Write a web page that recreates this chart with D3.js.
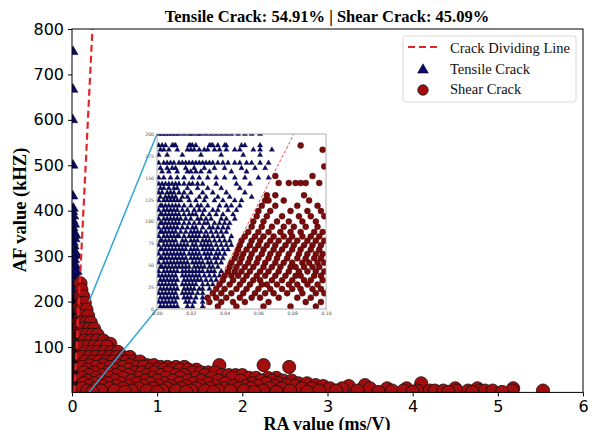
<!DOCTYPE html>
<html><head><meta charset="utf-8">
<script src="https://cdn.jsdelivr.net/npm/d3@7"></script>
<style>body{margin:0;background:#fff}svg{display:block}</style>
</head><body>
<svg id="chart" width="600" height="430"></svg>
<script>
// ---------------- DATA ----------------
const titleText = "Tensile Crack: 54.91% | Shear Crack: 45.09%";
const xTicks = [0, 1, 2, 3, 4, 5, 6];
const yTicks = [100, 200, 300, 400, 500, 600, 700, 800];
const insetXTicks = [0, 0.02, 0.04, 0.06, 0.08, 0.10];
const insetYTicks = [0, 25, 50, 75, 100, 125, 150, 175, 200];
const legendLabels = ["Crack Dividing Line", "Tensile Crack", "Shear Crack"];
// dividing line end points (RA, AF)
const lineRA = [0.028, 0.240];
const lineAF = [0, 800];
// zoom region connector anchors (RA, AF)
const zoomRA = [0.2, 0.2];
const zoomAF = [200, 0];

// Tensile cracks above the inset range: [RA, AF]
const tensileHigh = [[0.012,750],[0.010,667],[0.008,600],[0.012,500],[0.010,432],[0.015,405],[0.008,398],[0.020,388],
  [0.010,378],[0.030,370],[0.012,362],[0.022,352],[0.045,346],[0.008,345],[0.035,338],[0.015,330],[0.025,322],[0.010,315],
  [0.040,308],[0.055,302],[0.018,300],[0.030,292],[0.008,285],[0.045,278],[0.020,270],[0.060,266],[0.035,262],[0.012,255],[0.050,248],
  [0.025,240],[0.040,232],[0.065,228],[0.010,225],[0.055,218],[0.030,212],[0.018,205]];

// Tensile cracks in the low range, by AF row: [AF, [RA...]]
const tensileRows = [
 [200,[0.001,0.003,0.005,0.007,0.009,0.011,0.013,0.016,0.019,0.021,0.024,0.026,0.029,0.032,0.035,0.038,0.041,0.044,0.048,0.052,0.056,0.061]],
 [187,[0.001,0.003,0.005,0.009,0.010,0.011,0.019,0.020,0.021,0.023,0.031,0.032,0.033,0.036,0.040,0.041,0.050,0.052,0.061]],
 [182,[0.002,0.004,0.007,0.012,0.018,0.020,0.022,0.025,0.028,0.030,0.034,0.037,0.041,0.046,0.049,0.057,0.061,0.068]],
 [176,[0.001,0.006,0.015,0.026,0.038,0.051,0.061]],
 [167,[0.001,0.004,0.006,0.008,0.010,0.013,0.015,0.017,0.019,0.021,0.023,0.025,0.027,0.029,0.031,0.033,0.036,0.039,0.042,0.046,0.049,0.053,0.056,0.061,0.066]],
 [161,[0.002,0.006,0.009,0.011,0.017,0.022,0.028,0.034,0.040,0.050,0.058,0.064]],
 [157,[0.003,0.007,0.012,0.018,0.020,0.023,0.026,0.031,0.044,0.053]],
 [150,[0.001,0.004,0.008,0.012,0.016,0.021,0.025,0.030,0.035,0.040,0.046,0.052,0.060,0.066]],
 [143,[0.001,0.003,0.005,0.007,0.009,0.011,0.013,0.016,0.019,0.021,0.024,0.027,0.035,0.047,0.055]],
 [138,[0.002,0.004,0.007,0.010,0.012,0.018,0.024,0.030,0.038,0.049]],
 [133,[0.001,0.003,0.006,0.008,0.010,0.013,0.016,0.020,0.027,0.033,0.041,0.052]],
 [128,[0.002,0.005,0.007,0.009,0.011,0.015,0.018,0.025,0.029,0.036,0.043,0.056]],
 [124,[0.001,0.004,0.006,0.008,0.010,0.012,0.014,0.019,0.023,0.028,0.034,0.039,0.046,0.050]],
 [118,[0.002,0.003,0.005,0.007,0.009,0.011,0.013,0.016,0.020,0.024,0.026,0.030,0.037,0.041,0.044,0.049]],
 [113,[0.001,0.004,0.006,0.008,0.010,0.012,0.015,0.018,0.022,0.025,0.028,0.033,0.036,0.042,0.047]],
 [108,[0.002,0.003,0.005,0.007,0.009,0.011,0.013,0.016,0.019,0.021,0.023,0.027,0.031,0.035,0.039,0.045]],
 [103,[0.001,0.004,0.006,0.008,0.010,0.012,0.014,0.017,0.020,0.024,0.026,0.029,0.032,0.038,0.041,0.046]],
 [98,[0.002,0.003,0.005,0.007,0.009,0.011,0.013,0.016,0.019,0.022,0.025,0.028,0.030,0.034,0.037,0.040,0.043]],
 [93,[0.001,0.004,0.006,0.008,0.010,0.012,0.015,0.018,0.021,0.023,0.027,0.031,0.033,0.036,0.039,0.042]],
 [88,[0.002,0.003,0.005,0.007,0.009,0.011,0.014,0.017,0.020,0.022,0.024,0.026,0.029,0.032,0.035,0.038,0.041]],
 [83,[0.001,0.004,0.006,0.008,0.010,0.012,0.013,0.016,0.019,0.021,0.023,0.025,0.028,0.030,0.033,0.036,0.039,0.044]],
 [78,[0.002,0.003,0.005,0.007,0.009,0.011,0.015,0.017,0.020,0.022,0.024,0.027,0.029,0.031,0.034,0.037,0.040,0.043]],
 [73,[0.001,0.004,0.006,0.008,0.010,0.012,0.014,0.016,0.018,0.021,0.023,0.026,0.028,0.030,0.032,0.035,0.038,0.041,0.044]],
 [68,[0.002,0.003,0.005,0.007,0.009,0.011,0.013,0.015,0.017,0.020,0.022,0.024,0.027,0.029,0.031,0.033,0.036,0.039,0.042]],
 [63,[0.001,0.004,0.006,0.008,0.010,0.012,0.014,0.016,0.019,0.021,0.023,0.025,0.028,0.030,0.032,0.035,0.037,0.040]],
 [58,[0.002,0.003,0.005,0.007,0.009,0.011,0.013,0.015,0.017,0.020,0.022,0.024,0.026,0.029,0.031,0.034,0.036,0.039]],
 [53,[0.001,0.004,0.006,0.008,0.010,0.012,0.014,0.016,0.018,0.021,0.023,0.025,0.027,0.030,0.032,0.035,0.038]],
 [48,[0.002,0.003,0.005,0.007,0.009,0.011,0.013,0.015,0.017,0.019,0.022,0.024,0.026,0.028,0.031,0.033,0.036]],
 [43,[0.001,0.004,0.006,0.008,0.010,0.012,0.015,0.017,0.019,0.021,0.023,0.025,0.027,0.030,0.032,0.034,0.038]],
 [38,[0.001,0.003,0.005,0.007,0.009,0.011,0.015,0.017,0.019,0.021,0.023,0.025,0.028,0.031,0.034,0.037]],
 [33,[0.002,0.004,0.006,0.008,0.010,0.012,0.016,0.018,0.020,0.022,0.024,0.026,0.029,0.032,0.035]],
 [28,[0.001,0.003,0.005,0.007,0.009,0.011,0.015,0.017,0.019,0.021,0.023,0.027,0.030,0.033]],
 [23,[0.002,0.004,0.006,0.008,0.010,0.012,0.016,0.018,0.020,0.022,0.025,0.027,0.031]],
 [18,[0.001,0.003,0.005,0.007,0.009,0.011,0.015,0.017,0.019,0.021,0.024,0.027]],
 [13,[0.002,0.004,0.006,0.008,0.010,0.012,0.016,0.018,0.020,0.023,0.027]],
 [8,[0.001,0.003,0.005,0.007,0.009,0.011,0.017,0.019,0.022,0.027]],
 [3,[0.002,0.004,0.006,0.008,0.010,0.012,0.018,0.021,0.027]]
];

// Shear cracks in the low-RA range, by AF row: [AF, [RA...]]
const shearLowRows = [
 [187,[0.085]],[182,[0.098]],[163,[0.099]],[152,[0.070,0.092]],
 [144,[0.072,0.078,0.082,0.085,0.088,0.096]],
 [130,[0.065,0.070,0.087]],
 [124,[0.064,0.066,0.075,0.090]],
 [118,[0.062,0.070,0.083,0.095]],
 [112,[0.060,0.067,0.079,0.089,0.097]],
 [106,[0.059,0.065,0.074,0.084,0.091,0.099]],
 [100,[0.057,0.063,0.071,0.078,0.086,0.094]],
 [94,[0.056,0.062,0.068,0.075,0.081,0.088,0.095]],
 [88,[0.054,0.060,0.066,0.073,0.079,0.085,0.093,0.098]],
 [83,[0.052,0.058,0.063,0.069,0.075,0.080,0.086,0.091,0.096]],
 [78,[0.050,0.056,0.061,0.067,0.072,0.078,0.083,0.089,0.094,0.099]],
 [73,[0.049,0.055,0.060,0.065,0.070,0.076,0.081,0.087,0.092,0.097]],
 [68,[0.048,0.053,0.058,0.063,0.069,0.074,0.080,0.085,0.091,0.096]],
 [63,[0.047,0.051,0.056,0.062,0.067,0.072,0.078,0.084,0.089,0.094,0.098]],
 [58,[0.046,0.050,0.055,0.060,0.066,0.071,0.077,0.083,0.088,0.093,0.097]],
 [53,[0.044,0.049,0.054,0.059,0.064,0.070,0.075,0.080,0.086,0.090,0.095,0.099]],
 [48,[0.043,0.047,0.052,0.057,0.063,0.068,0.073,0.079,0.082,0.087,0.092,0.096]],
 [43,[0.042,0.046,0.050,0.055,0.061,0.066,0.072,0.078,0.084,0.089,0.094,0.099]],
 [38,[0.040,0.044,0.048,0.053,0.059,0.064,0.070,0.076,0.082,0.085,0.093,0.097]],
 [33,[0.039,0.045,0.051,0.057,0.061,0.068,0.074,0.080,0.087,0.091,0.098]],
 [28,[0.037,0.043,0.049,0.055,0.062,0.065,0.071,0.078,0.083,0.089,0.095]],
 [23,[0.035,0.040,0.047,0.053,0.060,0.067,0.074,0.080,0.085,0.092,0.097]],
 [18,[0.033,0.038,0.044,0.051,0.058,0.064,0.069,0.077,0.086,0.094,0.099]],
 [13,[0.030,0.035,0.041,0.049,0.056,0.061,0.072,0.083,0.091]],
 [8,[0.031,0.038,0.045,0.052,0.066,0.088,0.097]],
 [3,[0.036,0.047,0.063,0.079,0.094]]
];

// Shear cracks over the full RA range, by AF row: [AF, [RA...]]
const shearMainRows = [
 [240,[0.10]],[226,[0.11]],[212,[0.10,0.13]],[197,[0.12,0.15]],[182,[0.11,0.17]],[168,[0.13,0.19]],
 [154,[0.11,0.17,0.22]],[140,[0.14,0.20,0.26]],[127,[0.12,0.18,0.24,0.30]],[114,[0.15,0.22,0.29,0.37]],
 [107,[0.45]],[101,[0.12,0.19,0.26,0.33,0.41]],[89,[0.16,0.23,0.30,0.38,0.46,0.54]],
 [78,[0.12,0.20,0.28,0.36,0.44,0.52,0.60,0.68]],
 [68,[0.16,0.24,0.32,0.40,0.48,0.56,0.64,0.72,0.80]],
 [60,[0.20,0.36,0.52,0.68,0.88,0.96,1.73,2.25]],
 [56,[0.12,0.28,0.44,0.60,0.76,0.84,1.04,1.12,1.22,1.32,2.55]],
 [50,[0.18,0.34,0.50,0.66,0.92,1.00,1.08,1.17,1.27,1.37,1.46]],
 [44,[0.14,0.26,0.42,0.58,0.74,0.82,0.96,1.13,1.41,1.52,1.60,1.68]],
 [38,[0.20,0.36,0.52,0.66,0.88,1.04,1.22,1.32,1.56,1.76,1.84,1.92,2.00]],
 [32,[0.12,0.28,0.44,0.60,0.78,0.94,1.10,1.27,1.45,1.64,1.88,2.08,2.16,2.30,2.40]],
 [26,[0.18,0.34,0.50,0.70,0.86,1.00,1.18,1.36,1.52,1.72,1.98,2.22,2.35,2.48,2.58]],
 [20,[0.14,0.26,0.42,0.58,0.76,0.92,1.08,1.26,1.42,1.60,1.80,2.12,2.28,2.42,2.66,2.76,4.10]],
 [16,[2.52,2.86,3.44]],
 [14,[0.20,0.36,0.52,0.66,0.84,1.02,1.16,1.34,1.50,1.68,1.90,2.04,2.18,2.38,2.62,2.95,3.25]],
 [9,[0.12,0.28,0.44,0.60,0.78,0.96,1.12,1.28,1.46,1.62,1.78,1.96,2.10,2.32,2.46,2.70,2.82,3.03,3.17,3.50,3.70,3.93,4.50,4.76,5.18]],
 [4,[0.18,0.34,0.50,0.70,0.88,1.06,1.22,1.40,1.56,1.72,1.86,2.02,2.24,2.56,2.90,3.10,3.35,3.76,3.89,4.05,4.20,4.26,4.36,4.52,4.65,4.79,4.85,4.94,5.17,5.53]],
 [1,[0.24,0.62,1.00,1.34,1.66,2.14,2.40,2.76,3.60,4.00,4.42,4.70,5.05]]
];

// ---------------- BUILD ----------------
const fromRows = rows => rows.flatMap(([af, ras]) => ras.map(ra => ({ra, af})));
const tensile = tensileHigh.map(([ra, af]) => ({ra, af})).concat(fromRows(tensileRows));
const shear = fromRows(shearLowRows).concat(fromRows(shearMainRows));

const svg = d3.select("#chart");
const NAVY = "#0a0a6e", RED = "#a30d0d", DASH = "#e3232a", CYAN = "#2ea6d6";
const serif = "'Liberation Serif','Times New Roman',serif";
const sans = "'DejaVu Sans',sans-serif";

const x = d3.scaleLinear().domain([0, 6]).range([72, 583]);
const y = d3.scaleLinear().domain([0, 800]).range([392.4, 29]);
const xi = d3.scaleLinear().domain([0, 0.1]).range([157, 326]);
const yi = d3.scaleLinear().domain([0, 200]).range([309, 134]);

const defs = svg.append("defs");
defs.append("clipPath").attr("id", "clipMain").append("rect")
  .attr("x", x(0)).attr("y", y(800)).attr("width", x(6) - x(0)).attr("height", y(0) - y(800));
defs.append("clipPath").attr("id", "clipInset").append("rect")
  .attr("x", xi(0)).attr("y", yi(200)).attr("width", xi(0.1) - xi(0)).attr("height", yi(0) - yi(200));

const tri = s => d3.symbol().type(d3.symbolTriangle).size(s)();

// ---- main plot ----
const gMain = svg.append("g").attr("clip-path", "url(#clipMain)");
gMain.append("g").selectAll("path").data(tensile).join("path")
  .attr("d", tri(44))
  .attr("transform", d => `translate(${x(d.ra)},${y(d.af)})`)
  .attr("fill", NAVY).attr("stroke", "#000").attr("stroke-width", 0.5);
gMain.append("g").selectAll("circle").data(shear).join("circle")
  .attr("cx", d => x(d.ra)).attr("cy", d => y(d.af)).attr("r", 6.6)
  .attr("fill", RED).attr("stroke", "#111").attr("stroke-width", 0.8);
gMain.append("line")
  .attr("x1", x(lineRA[0])).attr("y1", y(lineAF[0]))
  .attr("x2", x(lineRA[1])).attr("y2", y(lineAF[1]))
  .attr("stroke", DASH).attr("stroke-width", 2.2).attr("stroke-dasharray", "7,4");

// connectors
svg.append("line").attr("x1", x(zoomRA[0])).attr("y1", y(zoomAF[0])).attr("x2", xi(0)).attr("y2", yi(200))
  .attr("stroke", CYAN).attr("stroke-width", 1.5);
svg.append("line").attr("x1", x(zoomRA[1])).attr("y1", y(zoomAF[1])).attr("x2", xi(0)).attr("y2", yi(0))
  .attr("stroke", CYAN).attr("stroke-width", 1.5);

// ---- inset ----
svg.append("rect").attr("x", xi(0)).attr("y", yi(200)).attr("width", xi(0.1) - xi(0)).attr("height", yi(0) - yi(200))
  .attr("fill", "#fff");
const gIn = svg.append("g").attr("clip-path", "url(#clipInset)");
const inDom = d => d.ra <= 0.104 && d.af <= 206;
gIn.append("g").selectAll("path").data(tensile.filter(inDom)).join("path")
  .attr("d", tri(12))
  .attr("transform", d => `translate(${xi(d.ra)},${yi(d.af)})`)
  .attr("fill", NAVY).attr("stroke", "#000").attr("stroke-width", 0.3);
gIn.append("g").selectAll("circle").data(shear.filter(inDom)).join("circle")
  .attr("cx", d => xi(d.ra)).attr("cy", d => yi(d.af)).attr("r", 3.0)
  .attr("fill", "#7d0b0b").attr("stroke", "#2a0000").attr("stroke-width", 0.4);
gIn.append("line")
  .attr("x1", xi(lineRA[0])).attr("y1", yi(lineAF[0]))
  .attr("x2", xi(lineRA[1])).attr("y2", yi(lineAF[1]))
  .attr("stroke", DASH).attr("stroke-width", 0.8).attr("stroke-dasharray", "3,2");
svg.append("rect").attr("x", xi(0)).attr("y", yi(200)).attr("width", xi(0.1) - xi(0)).attr("height", yi(0) - yi(200))
  .attr("fill", "none").attr("stroke", "#999").attr("stroke-width", 0.8);
const axIx = svg.append("g").attr("transform", `translate(0,${yi(0)})`)
  .call(d3.axisBottom(xi).tickValues(insetXTicks).tickFormat(d3.format(".2f")).tickSize(1.5).tickPadding(1.5));
const axIy = svg.append("g").attr("transform", `translate(${xi(0)},0)`)
  .call(d3.axisLeft(yi).tickValues(insetYTicks).tickSize(1.5).tickPadding(1.5));
[axIx, axIy].forEach(g => {
  g.select(".domain").remove();
  g.selectAll("line").attr("stroke", "#888").attr("stroke-width", 0.5);
  g.selectAll("text").attr("font-family", sans).attr("font-size", 4.6).attr("fill", "#555");
});

// ---- main axes ----
svg.append("rect").attr("x", x(0)).attr("y", y(800)).attr("width", x(6) - x(0)).attr("height", y(0) - y(800))
  .attr("fill", "none").attr("stroke", "#000").attr("stroke-width", 1);
const axX = svg.append("g").attr("transform", `translate(0,${y(0)})`)
  .call(d3.axisBottom(x).tickValues(xTicks).tickFormat(d3.format("d")).tickSize(4).tickPadding(4));
const axY = svg.append("g").attr("transform", `translate(${x(0)},0)`)
  .call(d3.axisLeft(y).tickValues(yTicks).tickFormat(d3.format("d")).tickSize(4).tickPadding(4));
[axX, axY].forEach(g => {
  g.select(".domain").remove();
  g.selectAll("line").attr("stroke", "#000");
  g.selectAll("text").attr("font-family", sans).attr("font-size", 16).attr("fill", "#000");
});

// labels
svg.append("text").attr("x", 327).attr("y", 22).attr("text-anchor", "middle")
  .attr("font-family", serif).attr("font-weight", "bold").attr("font-size", 16.5).text(titleText);
svg.append("text").attr("transform", "translate(25.5,210) rotate(-90)").attr("text-anchor", "middle")
  .attr("font-family", serif).attr("font-weight", "bold").attr("font-size", 18.5).text("AF value (kHZ)");
svg.append("text").attr("x", 327).attr("y", 429.5).attr("text-anchor", "middle")
  .attr("font-family", serif).attr("font-weight", "bold").attr("font-size", 18).text("RA value (ms/V)");

// legend
const lg = svg.append("g");
lg.append("rect").attr("x", 403).attr("y", 36).attr("width", 173).attr("height", 66).attr("rx", 2.5)
  .attr("fill", "#fff").attr("fill-opacity", 0.85).attr("stroke", "#d0d0d0").attr("stroke-width", 0.8);
lg.append("line").attr("x1", 408).attr("x2", 437).attr("y1", 47).attr("y2", 47)
  .attr("stroke", DASH).attr("stroke-width", 2.2).attr("stroke-dasharray", "7,4");
lg.append("path").attr("d", tri(50)).attr("transform", "translate(423,70)")
  .attr("fill", NAVY).attr("stroke", "#000").attr("stroke-width", 0.5);
lg.append("circle").attr("cx", 423).attr("cy", 90).attr("r", 5.2)
  .attr("fill", RED).attr("stroke", "#111").attr("stroke-width", 0.8);
lg.selectAll("text.l").data(legendLabels).join("text").attr("class", "l")
  .attr("x", 450).attr("y", (d, i) => 53 + i * 20.5)
  .attr("font-family", serif).attr("font-size", 14.5).attr("fill", "#111").text(d => d);
</script>
</body></html>
